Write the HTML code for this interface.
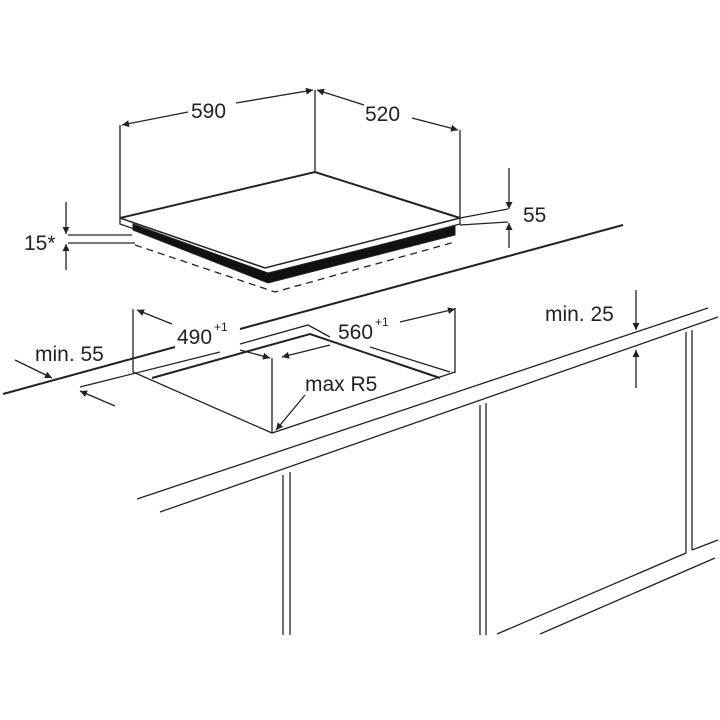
<!DOCTYPE html>
<html><head><style>body{margin:0;background:#fff}svg{display:block}text{font-family:"Liberation Sans",sans-serif;fill:#222}</style></head>
<body>
<svg width="720" height="720" viewBox="0 0 720 720" xmlns="http://www.w3.org/2000/svg">
<defs><marker id="a" viewBox="0 0 10 10" refX="10" refY="5" markerWidth="9" markerHeight="7" orient="auto-start-reverse" markerUnits="userSpaceOnUse"><path d="M0,0L10,5L0,10z" fill="#222"/></marker></defs>
<g stroke="#222" fill="none" stroke-width="1.3">
<path d="M120,218 L315,172 L460,218" stroke-width="2"/>
<path d="M120,218 L265,268 L460,218" stroke-width="1.5"/>
<path d="M120,218 L120,224 L268,275 L460,224 L460,218"/>
<path d="M133,230 L268,283 L455,235 L455,226 L268,273 L133,224z" fill="#111" stroke-width="1"/>
<path d="M135,245 L275,292 L455,242" stroke-dasharray="7,5"/>
<line x1="120" y1="125" x2="120" y2="218"/><line x1="315" y1="90" x2="315" y2="172"/><line x1="460" y1="130" x2="460" y2="218"/>
<line x1="122" y1="125" x2="188" y2="112" marker-start="url(#a)"/><line x1="236" y1="103" x2="313" y2="90" marker-end="url(#a)"/>
<line x1="317" y1="90" x2="364" y2="105" marker-start="url(#a)"/><line x1="412" y1="118" x2="458" y2="130" marker-end="url(#a)"/>
<line x1="460" y1="218" x2="508" y2="209"/><line x1="460" y1="225" x2="508" y2="222"/>
<line x1="509" y1="168" x2="509" y2="209" marker-end="url(#a)"/><line x1="509" y1="248" x2="509" y2="223" marker-end="url(#a)"/>
<line x1="68" y1="235" x2="132" y2="235"/><line x1="68" y1="243" x2="135" y2="243"/>
<line x1="66" y1="202" x2="66" y2="234" marker-end="url(#a)"/><line x1="66" y1="270" x2="66" y2="244" marker-end="url(#a)"/>
<line x1="3" y1="394" x2="175" y2="347" stroke-width="2"/><line x1="240" y1="329" x2="623" y2="225" stroke-width="2"/>
<line x1="133" y1="309" x2="133" y2="372"/><line x1="455" y1="308" x2="455" y2="373"/><line x1="272" y1="358" x2="272" y2="433"/>
<path d="M133,372 L272,433 L455,372"/>
<path d="M152,378 L310,334 L440,378" stroke-width="2"/>
<path d="M80,387 L220,352"/><path d="M240,344 L308,325 L330,337"/><path d="M370,347 L450,372"/>
<line x1="172" y1="324" x2="137" y2="310" marker-end="url(#a)"/>
<line x1="400" y1="322" x2="455" y2="309" marker-end="url(#a)"/>
<line x1="240" y1="350" x2="270" y2="358" marker-end="url(#a)"/>
<line x1="330" y1="345" x2="282" y2="357" marker-end="url(#a)"/>
<line x1="15" y1="360" x2="52" y2="378" marker-end="url(#a)"/>
<line x1="115" y1="406" x2="80" y2="391" marker-end="url(#a)"/>
<line x1="305" y1="395" x2="276" y2="430" marker-end="url(#a)"/>
<line x1="636" y1="290" x2="636" y2="330" marker-end="url(#a)"/><line x1="636" y1="388" x2="636" y2="350" marker-end="url(#a)"/>
<line x1="137" y1="499" x2="708" y2="308"/><line x1="160" y1="512" x2="718" y2="317"/>
<line x1="283" y1="475" x2="283" y2="635"/><line x1="290" y1="472" x2="290" y2="635"/>
<line x1="480" y1="405" x2="480" y2="635"/><line x1="486" y1="403" x2="486" y2="635"/>
<line x1="686" y1="332" x2="686" y2="553"/><line x1="692" y1="330" x2="692" y2="550"/>
<line x1="497" y1="634" x2="686" y2="553"/><line x1="692" y1="550" x2="718" y2="540"/>
<line x1="540" y1="634" x2="715" y2="558"/>
</g>
<g font-size="21">
<text x="191" y="118">590</text><text x="365" y="121">520</text>
<text x="523" y="222">55</text><text x="24" y="250">15*</text>
<text x="177" y="344">490</text><text x="214" y="331" font-size="12">+1</text>
<text x="338" y="339">560</text><text x="375" y="326" font-size="12">+1</text>
<text x="35" y="361">min. 55</text><text x="305" y="391">max R5</text>
<text x="545" y="321">min. 25</text>
</g>
</svg>
</body></html>
